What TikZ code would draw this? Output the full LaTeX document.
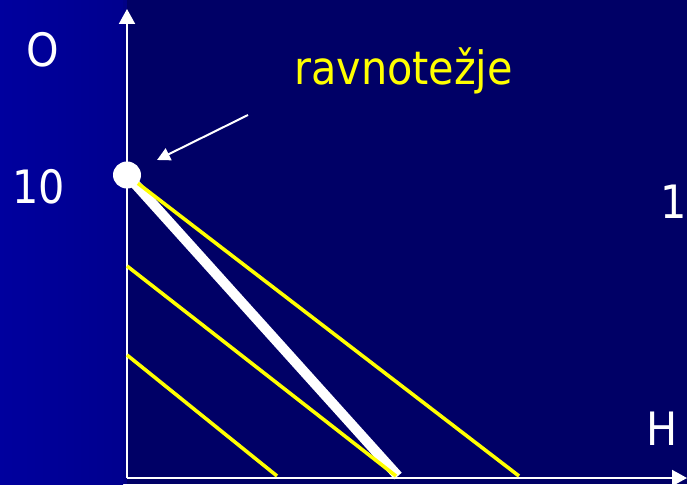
\documentclass[tikz,border=0pt]{standalone}
\usepackage{fontspec}
\setmainfont{DejaVu Sans Condensed}
\usetikzlibrary{arrows.meta}
\definecolor{navy}{RGB}{0,0,102}
\definecolor{stripL}{RGB}{0,0,158}
\definecolor{stripR}{RGB}{0,0,142}
\definecolor{ylw}{RGB}{255,255,0}
\tikzset{
  axisline/.style={draw=white, line width=2pt, -{Triangle[length=15pt,width=16pt]}},
  budget/.style={draw=ylw, line width=3.6pt},
  lbl/.style={text=white, font=\fontsize{46}{46}\selectfont, inner sep=0pt, anchor=base west},
}
\begin{document}
\begin{tikzpicture}[x=1pt,y=-1pt]
\useasboundingbox (0,0) rectangle (687,484);
\fill[navy] (0,0) rectangle (687,484);
\shade[left color=stripL, right color=stripR] (0,0) rectangle (123,484);
\fill[stripR!80!navy] (123,0) rectangle (127,484);
% coordinates
\coordinate (O) at (127,478);
\coordinate (ytip) at (127,9);
\coordinate (xtip) at (687,478);
\coordinate (E) at (127,175);
\coordinate (W) at (398,476);
\coordinate (A1) at (519,476);
\coordinate (B0) at (127,266);
\coordinate (B1) at (396,476);
\coordinate (C0) at (127,355);
\coordinate (C1) at (277,476);
\coordinate (as) at (248,115);
\coordinate (ae) at (157,160);
% axes
\draw[axisline] (O) -- (ytip);
\draw[axisline] (O) -- (xtip);
% lines
\draw[draw=white, line width=10pt] (E) -- (W);
\draw[budget] (E) -- (A1);
\draw[budget] (B0) -- (B1);
\draw[budget] (C0) -- (C1);
\fill[white] (E) ellipse (14pt and 13.5pt);
% arrow
\draw[white, line width=2pt, -{Triangle[length=13pt,width=13pt]}] (as) -- (ae);
% labels
\node[lbl] (lO) at (26,67) {O};
\node[lbl] (l10) at (12,203) {10};
\node[lbl] (l1) at (660,218) {1};
\node[lbl] (lH) at (646,445) {H};
\node[lbl, text=ylw] (lr) at (294,85) {ravnotežje};
\end{tikzpicture}
\end{document}
